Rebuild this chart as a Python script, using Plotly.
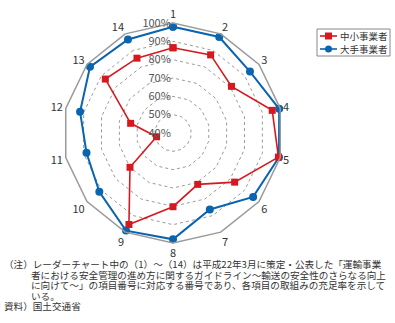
import plotly.graph_objects as go

# Radar chart: fulfilment rate per guideline item (1-14)
items = [str(i) for i in range(1, 15)]
small_firms = [86.5, 87.3, 80.8, 95.5, 99.0, 83.0, 71.1, 80.2, 95.4, 70.0, 49.2, 63.7, 87.2, 85.3]
large_firms = [98.0, 98.1, 93.7, 99.4, 99.3, 95.9, 86.3, 98.0, 99.1, 91.4, 88.4, 92.0, 97.9, 96.6]
series_names = ["中小事業者", "大手事業者"]
radial_ticks = [40, 50, 60, 70, 80, 90, 100]
radial_labels = [f"{v}%" for v in radial_ticks]

W, H = 395, 323
RED = "#d7191f"
BLUE = "#0a64ae"
FONT = "Noto Sans CJK JP, Noto Sans, sans-serif"


def px_x(x):
    return x / W


def px_y(y):
    return 1 - y / H


fig = go.Figure()

fig.add_trace(go.Scatterpolar(
    r=large_firms + large_firms[:1], theta=items + items[:1],
    mode="lines+markers", name=series_names[1],
    line=dict(color=BLUE, width=2),
    marker=dict(symbol="circle", size=8, color=BLUE),
    showlegend=False,
))
fig.add_trace(go.Scatterpolar(
    r=small_firms + small_firms[:1], theta=items + items[:1],
    mode="lines+markers", name=series_names[0],
    line=dict(color=RED, width=1.6),
    marker=dict(symbol="square", size=7, color=RED),
    showlegend=False,
))

fig.update_layout(
    width=W, height=H,
    margin=dict(l=0, r=0, t=0, b=0),
    paper_bgcolor="white",
    plot_bgcolor="white",
    font=dict(family=FONT, color="#333"),
    polar=dict(
        domain=dict(x=[px_x(63), px_x(283)], y=[px_y(243), px_y(23)]),
        gridshape="linear",
        bgcolor="white",
        radialaxis=dict(
            range=[40, 100], tickmode="array",
            tickvals=radial_ticks, ticktext=radial_labels,
            angle=90, tickangle=90, side="counterclockwise",
            showline=False, ticks="",
            gridcolor="#9a9a9a", griddash="dot", gridwidth=1,
            tickfont=dict(size=11, color="#555"),
        ),
        angularaxis=dict(
            type="category", categoryarray=items,
            direction="clockwise", rotation=90,
            showgrid=False, showline=True, linecolor="#9a9a9a", linewidth=1.5,
            ticks="", tickfont=dict(size=11, color="#333"),
        ),
    ),
)

# Legend box drawn as layout decoration
shapes = [dict(type="rect", xref="paper", yref="paper",
               x0=px_x(317), x1=px_x(390), y0=px_y(56), y1=px_y(29),
               line=dict(color="#888", width=1), fillcolor="white")]
legend_rows = [(36, RED, "square", series_names[0]), (49, BLUE, "circle", series_names[1])]
annotations = []
for y, col, sym, label in legend_rows:
    shapes.append(dict(type="line", xref="paper", yref="paper",
                       x0=px_x(320), x1=px_x(337), y0=px_y(y), y1=px_y(y),
                       line=dict(color=col, width=1.6)))
    half = 3.5
    shapes.append(dict(type="rect" if sym == "square" else "circle",
                       xref="paper", yref="paper",
                       x0=px_x(328.5 - half), x1=px_x(328.5 + half),
                       y0=px_y(y + half), y1=px_y(y - half),
                       line=dict(width=0), fillcolor=col))
    annotations.append(dict(text=label, xref="paper", yref="paper",
                            x=px_x(338), y=px_y(y), xanchor="left", yanchor="middle",
                            showarrow=False, font=dict(size=9.5, color="#333")))

notes = [
    (2, 264, "（注）レーダーチャート中の（1）～（14）は平成22年3月に策定・公表した「運輸事業"),
    (29, 274.5, "者における安全管理の進め方に関するガイドライン～輸送の安全性のさらなる向上"),
    (29, 285, "に向けて～」の項目番号に対応する番号であり、各項目の取組みの充足率を示して"),
    (29, 295.5, "いる。"),
    (2, 306, "資料）国土交通省"),
]
for x, y, t in notes:
    annotations.append(dict(text=t, xref="paper", yref="paper",
                            x=px_x(x), y=px_y(y), xanchor="left", yanchor="middle",
                            showarrow=False, font=dict(size=9.6, color="#333")))

fig.update_layout(shapes=shapes, annotations=annotations)
fig.write_html("out.html")
